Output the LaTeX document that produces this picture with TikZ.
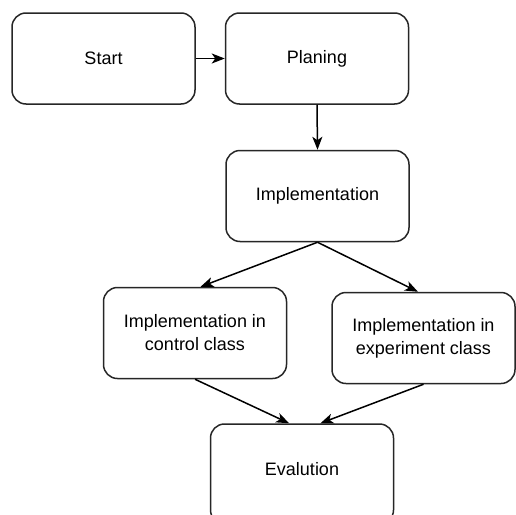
\documentclass[tikz,border=0pt]{standalone}
\usepackage{fontspec}
\setmainfont{Liberation Sans}
\usetikzlibrary{arrows.meta,calc}
\begin{document}
\begin{tikzpicture}[x=1pt,y=-1pt,
  box/.style={draw=black!85,line width=1.5pt,rounded corners=14pt,minimum width=183pt,minimum height=91pt,align=center,font=\fontsize{18pt}{23pt}\selectfont,inner sep=0pt},
  conn/.style={line width=1.5pt,black,-{Stealth[length=13pt,width=10pt,inset=3.5pt]}}]
\useasboundingbox (0,0) rectangle (516,514);
\node[box] (start) at (103.5,58.5) {Start};
\node[box] (plan) at (317,58.5) {Planing};
\node[box] (impl) at (317.5,196) {Implementation};
\node[box] (ctrl) at (195,333) {Implementation in\\control class};
\node[box] (exp) at (423.5,338) {Implementation in\\experiment class};
\begin{scope}
\clip (0,0) rectangle (516,514);
\node[box,minimum height=100pt,text depth=0pt] (eval) at (302,474) {};
\end{scope}
\node[font=\fontsize{18pt}{23pt}\selectfont] (evaltxt) at (302,469) {Evalution};
\draw[conn] (start.east) -- (plan.west);
\draw[conn] (plan.south) -- (impl.north);
\draw[conn] (impl.south) -- ($(ctrl.north west)!0.53!(ctrl.north east)$);
\draw[conn] (impl.south) -- ($(exp.north west)!0.47!(exp.north east)$);
\draw[conn] (ctrl.south) -- ($(eval.north west)!0.43!(eval.north east)$);
\draw[conn] (exp.south) -- ($(eval.north west)!0.6!(eval.north east)$);
\end{tikzpicture}
\end{document}
